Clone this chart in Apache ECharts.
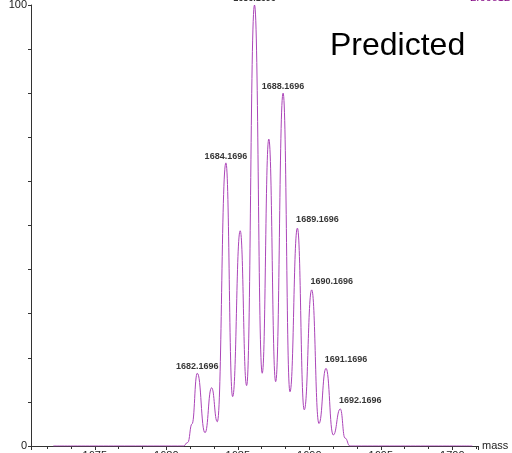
<!DOCTYPE html>
<html>
<head>
<meta charset="utf-8">
<script src="https://cdn.jsdelivr.net/npm/echarts@6/dist/echarts.min.js"></script>
<style>html,body{margin:0;padding:0;background:#fff}#c{width:512px;height:453px}</style>
</head>
<body>
<div id="c"></div>
<script>
// Profile points (mass, % intensity)
const profileMass = [1672.1, 1681.2, 1681.5, 1681.8, 1682.17, 1682.71, 1683.17, 1683.57, 1684.17, 1684.64, 1685.17, 1685.62, 1686.17, 1686.71, 1687.17, 1687.65, 1688.17, 1688.65, 1689.17, 1689.65, 1690.17, 1690.68, 1691.17, 1691.68, 1692.17, 1692.5, 1692.85, 1701.4];
const profileInt  = [0, 0, 0.8, 5, 16.5, 3.0, 13.2, 5.5, 64.2, 11.2, 48.8, 13.7, 100, 16.5, 69.6, 14.6, 80.0, 12.3, 49.4, 8.2, 35.4, 5.1, 17.6, 2.5, 8.4, 1.8, 0, 0];
// Labelled peaks
const peakMass = [1682.1696, 1684.1696, 1686.1696, 1688.1696, 1689.1696, 1690.1696, 1691.1696, 1692.1696];
const peakInt  = [16.5, 64.2, 100, 80.0, 49.4, 35.4, 17.6, 8.4];
const peakRight = [false, false, false, false, true, true, true, true];
const yTickLabels = ['0', '100'];

const chart = echarts.init(document.getElementById('c'));
const font = 'Arial, "Liberation Sans", sans-serif';
const lineColor = '#ab45b8';
chart.setOption({
  animation: false,
  grid: { left: 31, right: 34, top: 5, bottom: 7, containLabel: false, outerBoundsMode: 'none' },
  xAxis: {
    type: 'value', min: 1670.54, max: 1701.8, splitNumber: 6,
    name: 'mass', nameLocation: 'end', nameGap: 4,
    nameTextStyle: { color: '#222', fontSize: 11, fontFamily: font },
    axisLine: { lineStyle: { color: '#333', width: 1 } },
    axisTick: { show: true, length: 4, lineStyle: { color: '#333' } },
    minorTick: { show: true, splitNumber: 3, length: 3, lineStyle: { color: '#333' } },
    axisLabel: { color: '#222', fontSize: 11, fontFamily: font, margin: 4, showMinLabel: false, showMaxLabel: false,
      formatter: v => String(v) },
    splitLine: { show: false }
  },
  yAxis: {
    type: 'value', min: 0, max: 100, interval: 10,
    name: '%', nameLocation: 'middle', nameGap: 6, nameRotate: 90,
    nameTextStyle: { color: '#333', fontSize: 10, fontFamily: font },
    axisLine: { show: true, lineStyle: { color: '#333', width: 1 } },
    axisTick: { show: true, length: 3, lineStyle: { color: '#333' } },
    axisLabel: { color: '#222', fontSize: 11, fontFamily: font, margin: 4,
      formatter: v => (yTickLabels.indexOf(String(v)) >= 0 ? String(v) : '') },
    splitLine: { show: false }
  },
  graphic: [
    { type: 'text', left: 330, top: 30, style: { text: 'Predicted', fill: '#000', font: '32px ' + font } },
    { type: 'text', right: 2, top: -8, style: { text: '2.66e12', fill: '#800080', font: '11px ' + font } }
  ],
  series: [
    {
      type: 'line', data: profileMass.map((m, i) => [m, profileInt[i]]),
      showSymbol: false, smooth: 0.5, smoothMonotone: 'x',
      lineStyle: { color: lineColor, width: 1 }, z: 3
    },
    {
      type: 'scatter', symbolSize: 0, silent: true,
      data: peakMass.map((m, i) => ({
        value: [m, peakInt[i]],
        label: peakRight[i] ? { position: 'top', offset: [20, -2] } : { position: 'top' }
      })),
      label: { show: true, distance: 2, color: '#000', fontSize: 9, fontWeight: 'bold', fontFamily: font,
        formatter: p => p.value[0].toFixed(4) }
    }
  ]
});
</script>
</body>
</html>
